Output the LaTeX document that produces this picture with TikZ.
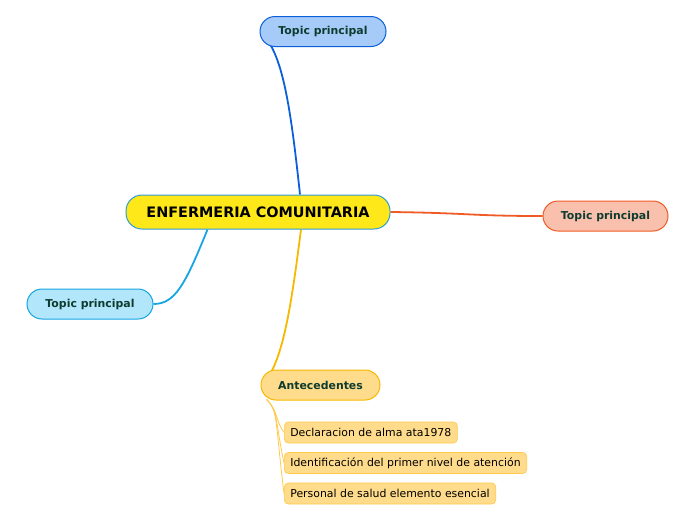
\documentclass[tikz,border=0pt]{standalone}
\usepackage{fontspec}
\setmainfont{DejaVu Sans}
\usetikzlibrary{backgrounds}

\definecolor{centerfill}{HTML}{FFE81A}
\definecolor{centerline}{HTML}{2E9AD8}
\definecolor{topfill}{HTML}{A7CBF9}
\definecolor{topline}{HTML}{0B5FD8}
\definecolor{rightfill}{HTML}{F9C0AE}
\definecolor{rightline}{HTML}{F05A24}
\definecolor{leftfill}{HTML}{B2E6FB}
\definecolor{leftline}{HTML}{16A5E2}
\definecolor{antefill}{HTML}{FFDC8C}
\definecolor{anteline}{HTML}{F7B800}
\definecolor{subline}{HTML}{FFC94A}
\definecolor{topictext}{HTML}{0E3B2E}

\begin{document}
\begin{tikzpicture}[x=1pt, y=-1pt,
			central/.style={draw=centerline, fill=centerfill, line width=1pt, rounded corners=16pt,
				minimum width=264pt, minimum height=34pt, font=\fontsize{14.4}{16}\selectfont\bfseries},
			topic/.style={line width=1pt, rounded corners=15pt, minimum height=30pt,
				text=topictext, font=\fontsize{10.9}{12}\selectfont\bfseries},
			sub/.style={draw=subline, fill=antefill, line width=0.7pt, rounded corners=4pt,
				minimum height=21pt, inner xsep=6pt, anchor=west, font=\fontsize{10.9}{12}\selectfont}]
			\useasboundingbox (0,0) rectangle (696,520);
			
			\node[central] (center) at (258,212) {ENFERMERIA COMUNITARIA};
			\node[topic, draw=topline, fill=topfill, minimum width=126pt] (top) at (323,31.5) {Topic principal};
			\node[topic, draw=rightline, fill=rightfill, minimum width=125pt] (right) at (605.5,216) {Topic principal};
			\node[topic, draw=leftline, fill=leftfill, minimum width=126pt] (left) at (90,304) {Topic principal};
			\node[topic, draw=anteline, fill=antefill, minimum width=119pt] (ante) at (320.5,385) {Antecedentes};
			
			\node[sub] (s1) at (284,432.5) {Declaracion de alma ata1978};
			\node[sub] (s2) at (284,463) {Identificación del primer nivel de atención};
			\node[sub] (s3) at (284,493.5) {Personal de salud elemento esencial};
			
			\begin{pgfonlayer}{background}
			\draw[topline, line width=1.8pt] ([xshift=42pt]center.north) .. controls (292,120) and (285,70) .. ([xshift=11pt,yshift=2pt]top.south west);
			\draw[rightline, line width=1.8pt] (center.east) .. controls (470,213) and (470,216) .. (right.west);
			\draw[leftline, line width=1.8pt] ([xshift=82pt]center.south west) .. controls (185,285) and (175,304) .. (left.east);
			\draw[anteline, line width=1.8pt] ([xshift=43pt]center.south) .. controls (292,300) and (285,345) .. ([xshift=11pt,yshift=-2pt]ante.north west);
			\foreach \s in {s1,s2,s3}{
			  \draw[subline, line width=0.8pt] ([xshift=6pt,yshift=1pt]ante.south west) .. controls (278,410) and (275,420) .. (\s.west);
			}
			\end{pgfonlayer}
		\end{tikzpicture}
\end{document}
